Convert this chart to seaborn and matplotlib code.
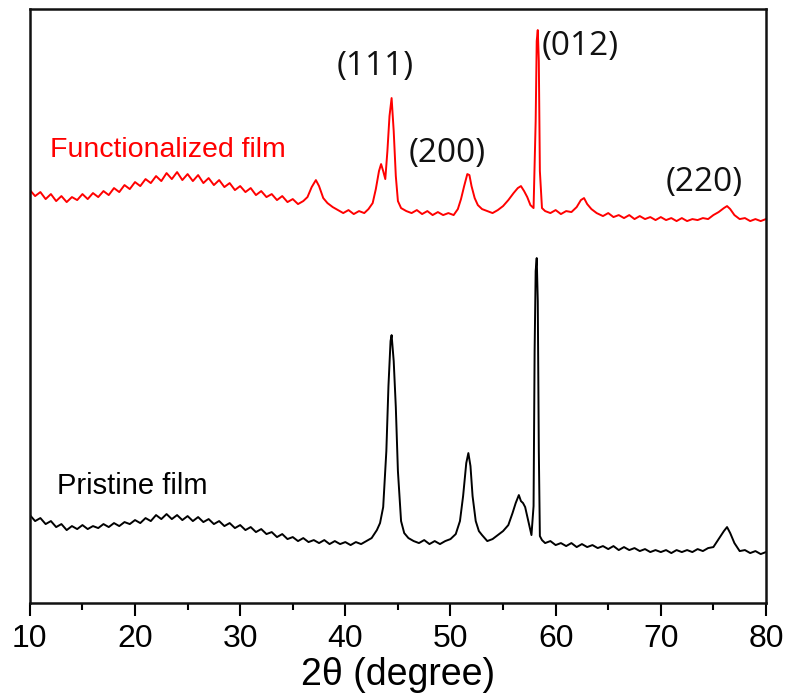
import matplotlib
matplotlib.use("Agg")
import matplotlib.pyplot as plt
import seaborn as sns
from matplotlib.ticker import MultipleLocator

# 2theta / intensity (a.u.)
func_x = [10.0, 10.5, 11.0, 11.5, 12.0, 12.5, 13.0, 13.5, 14.0, 14.5, 15.0, 15.5, 16.0, 16.5, 17.0, 17.5,
          18.0, 18.5, 19.0, 19.5, 20.0, 20.5, 21.0, 21.5, 22.0, 22.5, 23.0, 23.5, 24.0, 24.5, 25.0, 25.5,
          26.0, 26.5, 27.0, 27.5, 28.0, 28.5, 29.0, 29.5, 30.0, 30.5, 31.0, 31.5, 32.0, 32.5, 33.0, 33.5,
          34.0, 34.5, 35.0, 35.5, 36.0, 36.4, 36.8, 37.2, 37.5, 37.9, 38.3, 38.8, 39.3, 39.8, 40.3, 40.8,
          41.3, 41.8, 42.2, 42.6, 42.9, 43.2, 43.4, 43.6, 43.8, 44.0, 44.2, 44.4, 44.6, 44.8, 45.0, 45.3,
          45.8, 46.3, 46.8, 47.3, 47.8, 48.3, 48.8, 49.3, 49.8, 50.3, 50.7, 51.0, 51.3, 51.6, 51.8, 52.0,
          52.3, 52.6, 53.0, 53.5, 54.0, 54.5, 55.0, 55.5, 56.0, 56.4, 56.7, 57.0, 57.3, 57.6, 57.9, 58.1,
          58.2, 58.3, 58.4, 58.5, 58.7, 59.0, 59.5, 60.0, 60.5, 61.0, 61.5, 62.0, 62.4, 62.7, 63.0, 63.4,
          63.9, 64.5, 65.0, 65.5, 66.0, 66.5, 67.0, 67.5, 68.0, 68.5, 69.0, 69.5, 70.0, 70.5, 71.0, 71.5,
          72.0, 72.5, 73.0, 73.5, 74.0, 74.5, 75.0, 75.5, 76.0, 76.3, 76.6, 77.0, 77.5, 78.0, 78.5, 79.0,
          79.5, 80.0]
func_y = [411, 405, 409, 402, 407, 400, 405, 399, 404, 401, 407, 402, 408, 404, 410, 406,
          413, 409, 416, 412, 419, 415, 422, 418, 425, 420, 428, 422, 429, 421, 427, 420,
          426, 418, 423, 416, 421, 414, 418, 411, 415, 409, 413, 406, 410, 404, 407, 401,
          405, 399, 402, 397, 400, 404, 414, 421, 415, 403, 398, 394, 391, 388, 391, 387,
          390, 388, 392, 398, 412, 430, 437, 430, 422, 450, 485, 503, 470, 425, 400, 393,
          390, 388, 391, 387, 390, 386, 389, 386, 388, 386, 392, 402, 415, 427, 426, 415,
          403, 396, 392, 390, 388, 391, 395, 401, 408, 413, 415, 410, 404, 396, 393, 480,
          560, 571, 540, 430, 393, 390, 388, 391, 387, 390, 389, 394, 401, 403, 397, 392,
          388, 385, 388, 384, 386, 383, 386, 382, 385, 382, 384, 381, 384, 381, 383, 380,
          383, 380, 382, 381, 383, 382, 386, 389, 393, 395, 392, 386, 382, 383, 380, 382,
          380, 382]

pris_x = [10.0, 10.5, 11.0, 11.5, 12.0, 12.5, 13.0, 13.5, 14.0, 14.5, 15.0, 15.5, 16.0, 16.5, 17.0, 17.5,
          18.0, 18.5, 19.0, 19.5, 20.0, 20.5, 21.0, 21.5, 22.0, 22.5, 23.0, 23.5, 24.0, 24.5, 25.0, 25.5,
          26.0, 26.5, 27.0, 27.5, 28.0, 28.5, 29.0, 29.5, 30.0, 30.5, 31.0, 31.5, 32.0, 32.5, 33.0, 33.5,
          34.0, 34.5, 35.0, 35.5, 36.0, 36.5, 37.0, 37.5, 38.0, 38.5, 39.0, 39.5, 40.0, 40.5, 41.0, 41.5,
          42.0, 42.5, 43.0, 43.3, 43.6, 43.9, 44.1, 44.3, 44.4, 44.6, 44.8, 45.0, 45.3, 45.6, 46.0, 46.5,
          47.0, 47.5, 48.0, 48.5, 49.0, 49.5, 50.0, 50.5, 50.9, 51.2, 51.5, 51.7, 51.9, 52.1, 52.4, 52.7,
          53.0, 53.5, 54.0, 54.5, 55.0, 55.5, 55.9, 56.2, 56.5, 56.7, 56.9, 57.1, 57.4, 57.7, 57.9, 58.0,
          58.1, 58.2, 58.3, 58.4, 58.5, 58.7, 59.0, 59.5, 60.0, 60.5, 61.0, 61.5, 62.0, 62.5, 63.0, 63.5,
          64.0, 64.5, 65.0, 65.5, 66.0, 66.5, 67.0, 67.5, 68.0, 68.5, 69.0, 69.5, 70.0, 70.5, 71.0, 71.5,
          72.0, 72.5, 73.0, 73.5, 74.0, 74.5, 75.0, 75.5, 76.0, 76.3, 76.6, 77.0, 77.5, 78.0, 78.5, 79.0,
          79.5, 80.0]
pris_y = [86, 80, 83, 77, 80, 74, 77, 71, 75, 72, 76, 72, 75, 73, 77, 74,
          78, 75, 79, 77, 81, 78, 83, 80, 86, 82, 87, 82, 86, 81, 85, 80,
          84, 79, 82, 77, 80, 75, 78, 73, 76, 71, 74, 69, 72, 67, 69, 64,
          67, 62, 64, 60, 63, 59, 61, 58, 61, 57, 60, 57, 59, 56, 59, 57,
          60, 63, 71, 78, 94, 150, 215, 260, 266, 240, 194, 130, 80, 68, 63, 60,
          58, 61, 57, 60, 57, 60, 62, 67, 80, 105, 138, 148, 135, 105, 80, 70,
          66, 60, 62, 66, 70, 76, 88, 98, 106, 100, 98, 94, 80, 66, 95, 250,
          330, 343, 300, 150, 65, 61, 58, 60, 56, 58, 55, 58, 54, 57, 54, 56,
          53, 55, 52, 55, 51, 54, 51, 53, 50, 52, 49, 51, 49, 51, 48, 51,
          49, 51, 49, 52, 50, 53, 54, 62, 70, 74, 68, 58, 50, 51, 48, 50,
          47, 49]

peak_labels = ["(111)", "(200)", "(012)", "(220)"]
peak_label_x = [42.8, 49.7, 62.3, 74.1]
peak_label_y = [535, 448, 555, 419]

sns.set_style("ticks")
plt.rcParams['font.family'] = ['Liberation Sans Narrow', 'DejaVu Sans Condensed', 'Liberation Sans']
plt.rcParams['text.color'] = 'black'
plt.rcParams['xtick.color'] = 'black'
plt.rcParams['axes.labelcolor'] = 'black'

fig = plt.figure(figsize=(7.86, 6.98), dpi=100)
ax = fig.add_axes([0.038, 0.136, 0.9365, 0.851])

sns.lineplot(x=func_x, y=func_y, ax=ax, color='red', linewidth=1.4, sort=False)
sns.lineplot(x=pris_x, y=pris_y, ax=ax, color='black', linewidth=1.4, sort=False)

ax.set_xlim(10, 80)
ax.set_ylim(-2, 592)
ax.set_yticks([])
ax.xaxis.set_major_locator(MultipleLocator(10))
ax.xaxis.set_minor_locator(MultipleLocator(5))
ax.tick_params(axis='x', which='major', direction='out', length=9, width=1.5, labelsize=23, pad=6)
ax.tick_params(axis='x', which='minor', direction='out', length=5, width=1.5)
for s in ax.spines.values():
    s.set_linewidth(1.8)
    s.set_color('#111111')

ax.set_xlabel("2\u03b8 (degree)", fontsize=27, labelpad=2)

# sample names
ax.text(11.9, 451, "Functionalized film", color='red', fontsize=20.5,
        family=['Liberation Sans', 'DejaVu Sans'], ha='left', va='center')
ax.text(12.6, 115, "Pristine film", color='black', fontsize=21,
        family=['Liberation Sans', 'DejaVu Sans'], ha='left', va='center')

# miller indices
for lab, px, py in zip(peak_labels, peak_label_x, peak_label_y):
    ax.text(px, py, lab, fontsize=24, family=['Open Sans', 'DejaVu Sans'],
            ha='center', va='center', color='#111111')

fig.savefig("out.png", dpi=100)
